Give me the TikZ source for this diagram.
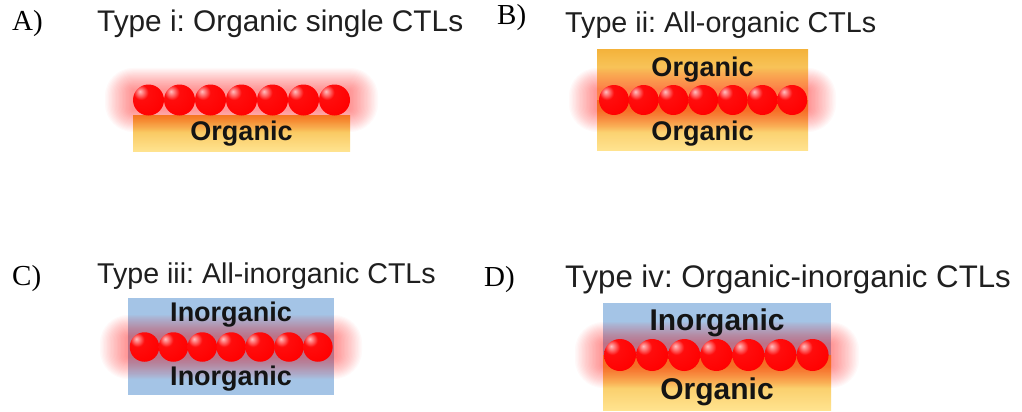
\documentclass[tikz,border=0pt]{standalone}
\usepackage{fontspec}
\setmainfont{Liberation Sans}
\newfontfamily\tnr{Liberation Serif}
\frenchspacing
\definecolor{orgTop}{HTML}{F4B33C}
\definecolor{orgBot}{HTML}{FFE38F}
\definecolor{inorg}{HTML}{A4C4E6}
\definecolor{ballred}{HTML}{F20000}
\pgfdeclareradialshading{redball}{\pgfpoint{-14bp}{14bp}}{%
 color(0bp)=(red!25!white); color(12bp)=(red!95!white); color(38bp)=(red); color(55bp)=(red!80!black); color(68bp)=(red!55!black); color(100bp)=(red!55!black)}
\tikzset{
 paneltitle/.style={anchor=base west, font=\fontsize{#1}{#1}\selectfont, text=black!88, inner sep=0},
 letter/.style={anchor=base west, font=\tnr\fontsize{29}{30}\selectfont, text=black, inner sep=0},
 lbl/.style={font=\bfseries\fontsize{#1}{#1}\selectfont, text=black!92, inner sep=0},
 ball/.style={circle, shading=redball, inner sep=0, minimum size=#1},
 orgfill/.style={top color=orgTop, bottom color=orgBot},
 inorgfill/.style={fill=inorg},
}
\newcommand\glowrow[4]{%
 \foreach \i in {1,...,20}{\fill[red,opacity=0.022,rounded corners={\i*1.4pt}] ({#1-\i*1.4},{#3-#4-\i*1.1}) rectangle ({#2+\i*1.4},{#3+#4+\i*1.1});}}
\newcommand\ballrow[5]{%
 \foreach \k in {1,...,7}{\node[ball=#5] (#1\k) at ({#2+(\k-1)*#3},#4) {};}}
\begin{document}
\begin{tikzpicture}[x=1pt,y=-1pt]
\useasboundingbox[fill=white] (0,0) rectangle (1022,412);
% ---------- A ----------
\node[letter] (la) at (12,31) {A)};
\node[paneltitle=29.8] (ta) at (97,32) {Type i: Organic single CTLs};
\fill[orgfill] (133,115) rectangle (350,151);
\glowrow{133}{350}{100}{10}
\ballrow{a}{148.5}{31}{100}{31pt}
\node[lbl=27] (oa) at (241.5,134) {Organic};
% ---------- B ----------
\node[letter] (lb) at (497,25) {B)};
\node[paneltitle=28.7] (tb) at (565,33) {Type ii: All-organic CTLs};
\fill[orgfill] (597,50) rectangle (808,100);
\fill[orgfill] (597,100) rectangle (808,150);
\glowrow{597}{808}{100}{10}
\ballrow{b}{614}{29.7}{100}{30pt}
\node[lbl=27] (ob1) at (702.5,70) {Organic};
\node[lbl=27] (ob2) at (702.5,134) {Organic};
% ---------- C ----------
\node[letter] (lc) at (12,285) {C)};
\node[paneltitle=28.6] (tc) at (97,283) {Type iii: All-inorganic CTLs};
\fill[inorgfill] (128,298) rectangle (334,395);
\glowrow{128}{334}{347}{10}
\ballrow{c}{144.5}{28.9}{347}{29.5pt}
\node[lbl=27] (ic1) at (231,315) {Inorganic};
\node[lbl=27] (ic2) at (231,379) {Inorganic};
% ---------- D ----------
\node[letter] (ld) at (484,286) {D)};
\node[paneltitle=31.2] (td) at (565,287) {Type iv: Organic-inorganic CTLs};
\fill[inorgfill] (603,303) rectangle (831,355);
\fill[orgfill] (603,355) rectangle (831,410);
\glowrow{603}{831}{355}{11}
\ballrow{d}{620}{32.1}{355}{32pt}
\node[lbl=30] (id) at (717,323) {Inorganic};
\node[lbl=30] (od) at (717,392) {Organic};
\end{tikzpicture}
\end{document}
